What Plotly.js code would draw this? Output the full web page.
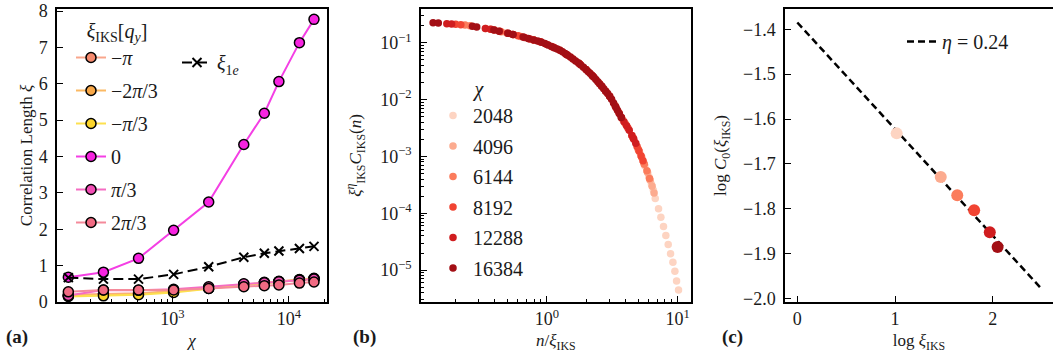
<!DOCTYPE html>
<html><head><meta charset="utf-8">
<script src="https://cdn.plot.ly/plotly-3.0.1.min.js"></script>
<style>html,body{margin:0;padding:0;background:#fff}#plot{width:1053px;height:360px}</style>
</head><body><div id="plot"></div>
<script>
// ---------- Panel (a): correlation length vs bond dimension ----------
const chi = [128, 256, 512, 1024, 2048, 4096, 6144, 8192, 12288, 16384];
const qyLabels = ["−<i>π</i>", "−2<i>π</i>/3", "−<i>π</i>/3", "0", "<i>π</i>/3", "2<i>π</i>/3"];
const xi_mpi   = [0.20, 0.22, 0.24, 0.30, 0.39, 0.49, 0.54, 0.57, 0.62, 0.65];
const xi_m2pi3 = [0.17, 0.20, 0.22, 0.28, 0.38, 0.48, 0.53, 0.56, 0.61, 0.64];
const xi_mpi3  = [0.15, 0.17, 0.20, 0.26, 0.37, 0.47, 0.52, 0.55, 0.60, 0.63];
const xi_0     = [0.68, 0.82, 1.20, 1.97, 2.75, 4.33, 5.19, 6.06, 7.13, 7.77];
const xi_pi3   = [0.18, 0.33, 0.32, 0.35, 0.42, 0.50, 0.53, 0.56, 0.60, 0.63];
const xi_2pi3  = [0.28, 0.33, 0.33, 0.33, 0.37, 0.42, 0.45, 0.47, 0.52, 0.55];
const xi_1e    = [0.67, 0.63, 0.63, 0.76, 0.97, 1.23, 1.34, 1.40, 1.47, 1.53];
const qySeries = [xi_mpi, xi_m2pi3, xi_mpi3, xi_0, xi_pi3, xi_2pi3];
const qyMarker = ["#f58a6e", "#f8a848", "#fcd52a", "#f723e0", "#f24eb5", "#f16b83"];
const qyLine   = ["#f9a68c", "#fbb963", "#fde04f", "#f43fe4", "#f56cc2", "#f48a9b"];
const aTickVals = [1000, 10000];
const aTickText = ["10<sup>3</sup>", "10<sup>4</sup>"];

// ---------- Panel (b): scaling collapse ----------
const chiLabels = ["2048", "4096", "6144", "8192", "12288", "16384"];
const chiColors = ["#fdd4c2", "#fcab8f", "#fb7c5c", "#f14432", "#d01d1f", "#a30f15"];
const bx2048 = [0.485,0.530,0.759,1.072,1.514,2.138,2.884,3.715,4.467,5.129,5.623,6.026,6.310,6.531,6.745,7.145,7.447,7.798,8.128,8.472,8.831,9.204,9.528,9.817,10.16];
const by2048 = [0.150,0.1429,0.1151,0.0871,0.0562,0.0290,0.0132,0.00486,0.00234,0.00117,0.000682,0.000445,0.000324,0.000255,0.000182,0.000120,8.51e-5,5.89e-5,4.07e-5,2.82e-5,1.95e-5,1.38e-5,9.55e-6,6.46e-6,4.47e-6];
const bx4096 = [0.341,0.372,0.562,0.794,1.122,1.585,2.239,3.020,3.802,4.467,5.012,5.495,5.888,6.166,6.383,6.607];
const by4096 = [0.1782,0.1722,0.1380,0.1117,0.0832,0.0520,0.0261,0.0115,0.00445,0.00234,0.00133,0.000783,0.000520,0.000380,0.000299,0.000228];
const bx6144 = [0.237,0.259,0.447,0.631,0.891,1.259,1.778,2.512,3.311,3.981,4.571,5.012,5.309,5.559,5.821,6.095];
const by6144 = [0.2056,0.1991,0.1570,0.1294,0.1038,0.0741,0.0427,0.0195,0.00794,0.00377,0.00211,0.00133,0.000964,0.000733,0.000562,0.000411];
const bx8192 = [0.201,0.220,0.398,0.437,0.603,0.794,1.000,1.413,1.995,2.818,3.548,4.169,4.571,4.898,5.070,5.248,5.433];
const by8192 = [0.2109,0.2080,0.1675,0.1592,0.1327,0.1117,0.0933,0.0624,0.0339,0.0141,0.00593,0.00316,0.00211,0.00150,0.00125,0.00103,0.000839];
const bx12288 = [0.172,0.187,0.339,0.372,0.501,0.550,0.676,0.741,0.891,1.122,1.413,1.778,2.239,2.630,3.020,3.388,3.715,3.890,4.074,4.266,4.467,4.624,4.786];
const by12288 = [0.2168,0.2138,0.1786,0.1722,0.1472,0.1396,0.1239,0.1169,0.1038,0.0832,0.0624,0.0427,0.0261,0.0171,0.0115,0.00719,0.00486,0.00409,0.00347,0.00290,0.00234,0.00200,0.00170];
const bx16384 = [0.135,0.148,0.270,0.291,0.394,0.432,0.506,0.552,0.659,0.720,0.794,0.851,0.912,0.966,1.023,1.084,1.148,1.202,1.259,1.318,1.380,1.445,1.514,1.585,1.660,1.738,1.820,1.905,1.995,2.065,2.138,2.213,2.291,2.371,2.455,2.541,2.630,2.723,2.818,2.917,3.020,3.126,3.236,3.350,3.467,3.589,3.715];
const by16384 = [0.2254,0.2223,0.1959,0.1897,0.1683,0.1600,0.1466,0.1393,0.1259,0.1191,0.1117,0.1069,0.1023,0.0966,0.0912,0.0861,0.0813,0.0776,0.0741,0.0692,0.0646,0.0603,0.0562,0.0520,0.0480,0.0444,0.0407,0.0372,0.0339,0.0313,0.0290,0.0267,0.0247,0.0226,0.0207,0.0189,0.0171,0.0156,0.0141,0.0128,0.0115,0.0101,0.00875,0.00757,0.00653,0.00564,0.00486];
const bX = [bx2048, bx4096, bx6144, bx8192, bx12288, bx16384];
const bY = [by2048, by4096, by6144, by8192, by12288, by16384];
const bxTickVals = [1, 10];
const bxTickText = ["10<sup>0</sup>", "10<sup>1</sup>"];
const byTickVals = [1e-5, 1e-4, 1e-3, 1e-2, 1e-1];
const byTickText = ["10<sup>−5</sup>", "10<sup>−4</sup>", "10<sup>−3</sup>", "10<sup>−2</sup>", "10<sup>−1</sup>"];

// ---------- Panel (c): log C0 vs log xi ----------
const logXi = [1.017, 1.468, 1.637, 1.810, 1.970, 2.050];
const logC0 = [-1.632, -1.729, -1.770, -1.803, -1.852, -1.885];
const fitX = [0, 2.49];
const fitY = [-1.385, -1.976];
const etaLabel = "<i>η</i> = 0.24";

// ---------- minor tick helpers (axis decoration) ----------
function minorLog(lo, hi) { const v = []; for (let e = lo; e <= hi; e++) for (let m = 2; m <= 9; m++) v.push(m * Math.pow(10, e)); return v; }

const FONT = "'Liberation Serif', 'DejaVu Serif', serif";
const TXT = "#1a1a1a";
const traces = [];

qySeries.forEach((ys, i) => {
  traces.push({
    x: chi, y: ys, type: "scatter", mode: "lines+markers", xaxis: "x", yaxis: "y",
    name: qyLabels[i], legend: "legend", legendgroup: "a" + i,
    line: {color: qyLine[i], width: 2},
    marker: {color: qyMarker[i], size: 10, line: {color: "#000", width: 1.5}}
  });
});
traces.push({
  x: chi, y: xi_1e, type: "scatter", mode: "lines+markers", xaxis: "x", yaxis: "y",
  name: "<i>ξ</i><sub>1<i>e</i></sub>", legend: "legend2",
  line: {color: "#000", width: 2, dash: "10px,5px"},
  marker: {symbol: "x-thin", size: 9, color: "#000", line: {color: "#000", width: 2}}
});
bX.forEach((xs, i) => {
  traces.push({
    x: xs, y: bY[i], type: "scatter", mode: "markers", xaxis: "x2", yaxis: "y2",
    name: chiLabels[i], legend: "legend3", legendgroup: "b" + i,
    marker: {color: chiColors[i], size: 7.5}
  });
});
traces.push({
  x: fitX, y: fitY, type: "scatter", mode: "lines", xaxis: "x3", yaxis: "y3",
  name: etaLabel, legend: "legend4",
  line: {color: "#000", width: 2.5, dash: "7px,4px"}
});
traces.push({
  x: logXi, y: logC0, type: "scatter", mode: "markers", xaxis: "x3", yaxis: "y3",
  showlegend: false, marker: {color: chiColors, size: 12}
});

const axBase = {
  showgrid: false, zeroline: false, showline: true, linecolor: "#000", linewidth: 1.5,
  mirror: true, ticks: "inside", ticklen: 6, tickwidth: 1.2, tickcolor: "#000",
  tickfont: {family: FONT, size: 18, color: TXT}, automargin: false
};
const yDom = [0.1611, 0.975];
const titleFont = {family: FONT, size: 17, color: TXT};
const legFont = {family: FONT, size: 20, color: TXT};

const layout = {
  width: 1053, height: 360, margin: {l: 0, r: 0, t: 0, b: 0},
  paper_bgcolor: "#fff", plot_bgcolor: "#fff",
  font: {family: FONT, color: TXT, size: 17},
  xaxis: Object.assign({}, axBase, {
    domain: [0.05413, 0.31054], type: "log", range: [2.01, 4.326], anchor: "y",
    tickvals: aTickVals, ticktext: aTickText,
    minor: {tickvals: minorLog(2, 4), ticks: "inside", ticklen: 3, tickwidth: 1, tickcolor: "#000"},
    title: {text: "<i>χ</i>", font: titleFont, standoff: 6}
  }),
  yaxis: Object.assign({}, axBase, {
    domain: yDom, range: [0, 8.055], dtick: 1, tick0: 0, anchor: "x", ticklabelstandoff: 4,
    title: {text: "Correlation Length <i>ξ</i>", font: titleFont, standoff: 2}
  }),
  xaxis2: Object.assign({}, axBase, {
    domain: [0.39981, 0.65594], type: "log", range: [-0.962, 1.10], anchor: "y2",
    tickvals: bxTickVals, ticktext: bxTickText,
    minor: {tickvals: minorLog(-1, 1), ticks: "inside", ticklen: 3, tickwidth: 1, tickcolor: "#000"},
    title: {text: "<i>n</i>/<i>ξ</i><sub>IKS</sub>", font: titleFont, standoff: 6}
  }),
  yaxis2: Object.assign({}, axBase, {
    domain: yDom, type: "log", range: [-5.56, -0.406], anchor: "x2", ticklabelstandoff: 4,
    tickvals: byTickVals, ticktext: byTickText,
    minor: {tickvals: minorLog(-6, -1), ticks: "inside", ticklen: 3, tickwidth: 1, tickcolor: "#000"},
    title: {text: "<i>ξ</i><sup><i>η</i></sup><sub>IKS</sub><i>C</i><sub>IKS</sub>(<i>n</i>)", font: titleFont, standoff: 14}
  }),
  xaxis3: Object.assign({}, axBase, {
    domain: [0.74549, 1.0], range: [-0.126, 2.617], dtick: 1, tick0: 0, anchor: "y3",
    title: {text: "log <i>ξ</i><sub>IKS</sub>", font: titleFont, standoff: 6}
  }),
  yaxis3: Object.assign({}, axBase, {
    domain: yDom, range: [-2.0076, -1.355], dtick: 0.1, tick0: -2.0, tickformat: ".1f", anchor: "x3",
    mirror: false, ticklabelstandoff: 4,
    title: {text: "log <i>C</i><sub>0</sub>(<i>ξ</i><sub>IKS</sub>)", font: titleFont, standoff: 12}
  }),
  legend: {
    x: 71/1053, y: 1 - 12/360, xanchor: "left", yanchor: "top", bgcolor: "rgba(0,0,0,0)",
    font: legFont, tracegroupgap: 4, traceorder: "grouped",
    title: {text: "<i>ξ</i><sub>IKS</sub>[<i>q</i><sub><i>y</i></sub>]", font: legFont, side: "top center"}
  },
  legend2: {
    x: 177/1053, y: 1 - 43/360, xanchor: "left", yanchor: "top", bgcolor: "rgba(0,0,0,0)", font: legFont
  },
  legend3: {
    x: 433/1053, y: 1 - 70/360, xanchor: "left", yanchor: "top", bgcolor: "rgba(0,0,0,0)",
    font: legFont, tracegroupgap: 1.5, traceorder: "grouped",
    title: {text: "<i>χ</i>", font: legFont, side: "top center"}
  },
  legend4: {
    x: 902/1053, y: 1 - 22/360, xanchor: "left", yanchor: "top", bgcolor: "rgba(0,0,0,0)", font: legFont
  },
  annotations: [
    {text: "<b>(a)</b>", x: 4/1053, y: 1 - 337/360, xref: "paper", yref: "paper", xanchor: "left", yanchor: "middle", showarrow: false, font: {family: FONT, size: 19, color: TXT}},
    {text: "<b>(b)</b>", x: 351/1053, y: 1 - 337/360, xref: "paper", yref: "paper", xanchor: "left", yanchor: "middle", showarrow: false, font: {family: FONT, size: 19, color: TXT}},
    {text: "<b>(c)</b>", x: 720/1053, y: 1 - 337/360, xref: "paper", yref: "paper", xanchor: "left", yanchor: "middle", showarrow: false, font: {family: FONT, size: 19, color: TXT}}
  ],
  showlegend: true
};

Plotly.newPlot("plot", traces, layout, {displayModeBar: false});
</script></body></html>
